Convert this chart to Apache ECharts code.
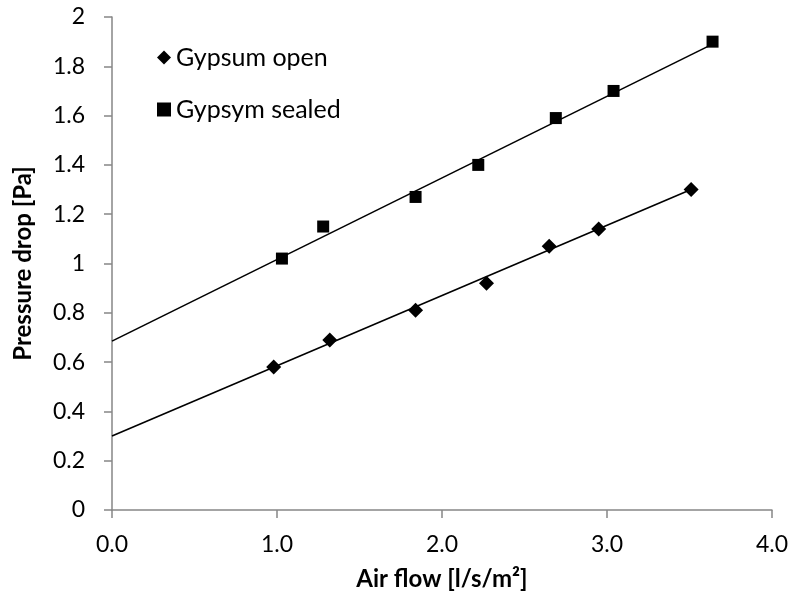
<!DOCTYPE html>
<html>
<head>
<meta charset="utf-8">
<script src="https://cdn.jsdelivr.net/npm/echarts@6/dist/echarts.min.js"></script>
<style>
  html, body { margin: 0; padding: 0; background: #fff; }
  #chart { width: 791px; height: 598px; }
</style>
</head>
<body>
<div id="chart"></div>
<script>
// measured values, Gypsum open (diamonds)
var openX = [0.98, 1.32, 1.84, 2.27, 2.65, 2.95, 3.51];
var openY = [0.58, 0.69, 0.81, 0.92, 1.07, 1.14, 1.30];
// Gypsym sealed (squares)
var sealedX = [1.03, 1.28, 1.84, 2.22, 2.69, 3.04, 3.64];
var sealedY = [1.02, 1.15, 1.27, 1.40, 1.59, 1.70, 1.90];
// linear trend lines, end points
var openTrend = [[0, 0.30], [3.51, 1.30]];
var sealedTrend = [[0, 0.685], [3.64, 1.89]];

var seriesNames = ['Gypsum open', 'Gypsym sealed'];

function pairs(xs, ys) {
  return xs.map(function (x, i) { return [x, ys[i]]; });
}

var chart = echarts.init(document.getElementById('chart'));
var font = 'Lato, "Open Sans", sans-serif';
var axisGray = '#868686';

var option = {
  backgroundColor: '#ffffff',
  animation: false,
  textStyle: { fontFamily: font },
  grid: { left: 112, right: 18, top: 17, bottom: 88 },
  legend: {
    data: seriesNames,
    orient: 'vertical',
    left: 152,
    top: 40,
    itemWidth: 14,
    itemHeight: 14,
    itemGap: 27,
    textStyle: { fontFamily: font, fontSize: 25, color: '#000' }
  },
  xAxis: {
    type: 'value',
    min: 0,
    max: 4,
    interval: 1,
    name: 'Air flow [l/s/m²]',
    nameLocation: 'middle',
    nameGap: 57,
    nameTextStyle: { fontFamily: font, fontSize: 24, fontWeight: 'bold', color: '#000' },
    axisLine: { lineStyle: { color: axisGray, width: 1.5 } },
    axisTick: { show: true, inside: false, length: 8, lineStyle: { color: axisGray, width: 1.5 } },
    axisLabel: {
      fontFamily: font, fontSize: 23, color: '#000', margin: 23,
      formatter: function (v) { return v.toFixed(1); }
    },
    splitLine: { show: false }
  },
  yAxis: {
    type: 'value',
    min: 0,
    max: 2,
    interval: 0.2,
    name: 'Pressure drop [Pa]',
    nameLocation: 'middle',
    nameGap: 77,
    nameTextStyle: { fontFamily: font, fontSize: 24, fontWeight: 'bold', color: '#000' },
    axisLine: { show: true, lineStyle: { color: axisGray, width: 1.5 } },
    axisTick: { show: true, inside: false, length: 8, lineStyle: { color: axisGray, width: 1.5 } },
    axisLabel: {
      fontFamily: font, fontSize: 23, color: '#000', margin: 27,
      formatter: function (v) { return String(Math.round(v * 10) / 10); }
    },
    splitLine: { show: false }
  },
  series: [
    {
      name: seriesNames[0] + ' trend',
      type: 'line',
      data: openTrend,
      showSymbol: false,
      silent: true,
      lineStyle: { color: '#000', width: 1.6 },
      z: 1
    },
    {
      name: seriesNames[1] + ' trend',
      type: 'line',
      data: sealedTrend,
      showSymbol: false,
      silent: true,
      lineStyle: { color: '#000', width: 1.6 },
      z: 1
    },
    {
      name: seriesNames[0],
      type: 'scatter',
      symbol: 'diamond',
      symbolSize: [15, 15],
      itemStyle: { color: '#000', opacity: 1 },
      data: pairs(openX, openY),
      z: 3
    },
    {
      name: seriesNames[1],
      type: 'scatter',
      symbol: 'rect',
      symbolSize: 12,
      itemStyle: { color: '#000', opacity: 1 },
      data: pairs(sealedX, sealedY),
      z: 3
    }
  ]
};

chart.setOption(option);
</script>
</body>
</html>
